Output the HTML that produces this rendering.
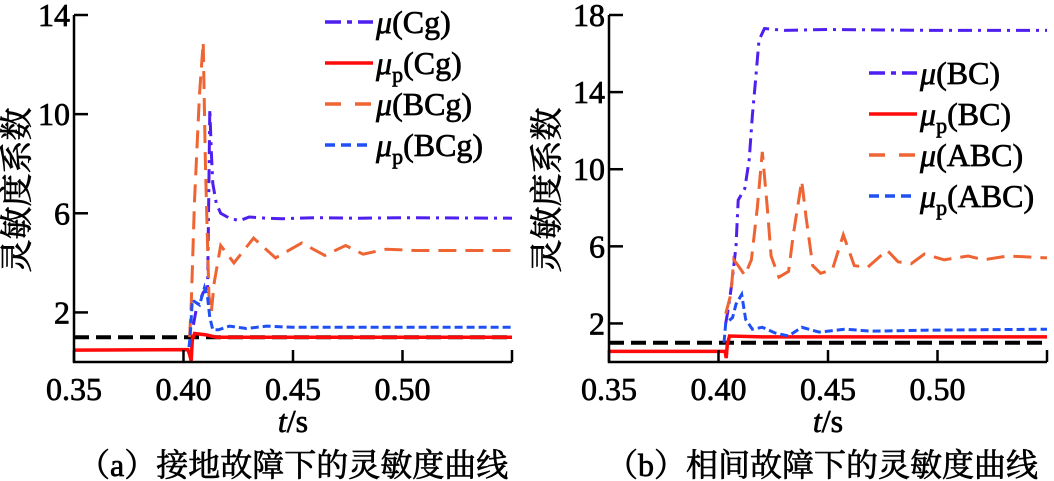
<!DOCTYPE html>
<html><head><meta charset="utf-8"><style>
html,body{margin:0;padding:0;background:#fff;width:1054px;height:481px;overflow:hidden}
svg text{font-family:"Liberation Serif","Noto Serif CJK SC",serif;fill:#000;stroke:#000;stroke-width:0.7}
</style></head><body>
<svg id="chart" width="1054" height="481" viewBox="0 0 1054 481" xmlns="http://www.w3.org/2000/svg"></svg>
<script>
// Panel (a) data
const tA_Cg=[0.4045,0.406,0.409,0.411,0.4115,0.412,0.4127,0.4134,0.415,0.417,0.421,0.4256,0.43,0.4378,0.445,0.46,0.48,0.50,0.55];
const vA_Cg=[1.5,2.2,2.8,3.0,6.5,10.2,8.5,7.2,6.4,6.0,5.8,5.7,5.85,5.8,5.78,5.82,5.8,5.82,5.8];
const tA_pCg=[0.35,0.402,0.4028,0.4035,0.404,0.405,0.41,0.415,0.55];
const vA_pCg=[0.48,0.5,0.3,0.05,0.9,1.15,1.1,1.0,1.0];
const tA_BCg=[0.4028,0.4035,0.405,0.4073,0.409,0.410,0.4116,0.4127,0.414,0.417,0.423,0.432,0.442,0.454,0.4645,0.474,0.482,0.4925,0.506,0.55];
const vA_BCg=[1.0,2.3,6.5,10.8,12.9,8.0,2.7,2.0,3.2,4.7,4.0,5.0,4.2,4.8,4.3,4.7,4.35,4.55,4.5,4.5];
const tA_pBCg=[0.4025,0.403,0.404,0.4073,0.4096,0.411,0.412,0.4134,0.416,0.421,0.4287,0.438,0.45,0.55];
const vA_pBCg=[0.6,1.0,2.5,2.3,3.0,2.6,1.8,1.3,1.3,1.45,1.35,1.45,1.4,1.4];
// Panel (b) data
const tB_BC=[0.4033,0.4045,0.406,0.408,0.409,0.412,0.414,0.4155,0.417,0.4185,0.421,0.43,0.45,0.50,0.55];
const vB_BC=[2.0,2.8,4.0,6.0,8.4,9.0,10.5,12.8,14.7,16.7,17.3,17.2,17.25,17.2,17.2];
const tB_pBC=[0.35,0.403,0.4035,0.404,0.405,0.42,0.55];
const vB_pBC=[0.55,0.56,0.2,0.9,1.35,1.3,1.3];
const tB_ABC=[0.4033,0.4056,0.407,0.409,0.412,0.415,0.4177,0.42,0.4223,0.424,0.4276,0.432,0.434,0.438,0.44,0.443,0.4466,0.452,0.457,0.462,0.468,0.477,0.482,0.488,0.494,0.503,0.514,0.521,0.532,0.55];
const vB_ABC=[2.5,3.5,5.3,5.0,4.5,5.3,8.0,10.9,8.0,5.5,4.4,4.7,6.5,9.4,7.5,5.0,4.6,4.8,6.6,5.0,4.9,5.8,5.2,5.1,5.6,5.3,5.5,5.3,5.5,5.4];
const tB_pABC=[0.4025,0.4033,0.4064,0.408,0.4106,0.4124,0.4155,0.42,0.426,0.432,0.438,0.446,0.458,0.47,0.494,0.55];
const vB_pABC=[1.0,2.0,2.3,3.0,3.5,2.2,1.7,1.8,1.5,1.35,1.8,1.55,1.7,1.6,1.65,1.7];
const xTicks=[0.35,0.40,0.45,0.50];
const xTickLabels=["0.35","0.40","0.45","0.50"];
const yTicksA=[2,6,10,14];
const yTicksB=[2,6,10,14,18];

const NS="http://www.w3.org/2000/svg";
const svg=document.getElementById('chart');
function el(tag,attrs,parent){const e=document.createElementNS(NS,tag);for(const k in attrs)e.setAttribute(k,attrs[k]);(parent||svg).appendChild(e);return e;}

function panel(cfg){
  const g=el('g',{});
  
  
  const X=t=>cfg.x0+(t-0.35)/0.2*(cfg.x1-cfg.x0);
  const Y=v=>cfg.y0-(v-cfg.vmin)/(cfg.vmax-cfg.vmin)*(cfg.y0-cfg.y1);
  const th=el('line',{x1:cfg.x0,x2:cfg.x1,y1:Y(1),y2:Y(1),stroke:'#000','stroke-width':4,'stroke-dasharray':'15 7'},g);
  
  
  cfg.series.forEach(s=>{
    const d=s.t.map((t,i)=>(i?'L':'M')+X(t).toFixed(1)+','+Y(s.v[i]).toFixed(1)).join(' ');
    const p=el('path',{d:d,fill:'none',stroke:s.color,'stroke-width':s.w||3,'stroke-dasharray':s.dash||'none'},g);
    
    
  });
  const ax=el('path',{d:`M${cfg.x0},${cfg.y1} L${cfg.x0},${cfg.y0} L${cfg.x1},${cfg.y0}`,fill:'none',stroke:'#000','stroke-width':2.5},g);
  
  
  cfg.yt.forEach(v=>{
    el('line',{x1:cfg.x0,x2:cfg.x0+14,y1:Y(v),y2:Y(v),stroke:'#000','stroke-width':2.5},g);
    const tx=el('text',{x:cfg.x0-4,y:Y(v)+11,'font-size':32,'text-anchor':'end'},g);
    tx.textContent=v;
    
    
  });
  xTicks.concat([0.55]).forEach(t=>{
    el('line',{x1:X(t),x2:X(t),y1:cfg.y0,y2:cfg.y0-12,stroke:'#000','stroke-width':2.5},g);
  });
  xTicks.forEach((t,i)=>{
    const tx=el('text',{x:X(t),y:cfg.y0+38,'font-size':32,'text-anchor':'middle'},g);
    tx.textContent=xTickLabels[i];
    
    
  });
  const xl=el('text',{x:X(0.45),y:cfg.y0+70,'font-size':32,'text-anchor':'middle'},g);
  xl.innerHTML='<tspan font-style="italic">t</tspan>/s';
  
  
  const yl=el('text',{x:0,y:0,'font-size':33,'text-anchor':'middle',transform:`translate(${cfg.ylx},${cfg.yly}) rotate(-90)`},g);
  yl.textContent='灵敏度系数';
  
  
  const cap=el('text',{x:cfg.capx,y:476,'font-size':32},g);
  cap.textContent=cfg.caption;
  
  
  cfg.series.forEach((s,i)=>{
    const ly=cfg.ly+i*cfg.lstep;
    const ll=el('line',{x1:cfg.lx,x2:cfg.lx+48,y1:ly,y2:ly,stroke:s.color,'stroke-width':3.5,'stroke-dasharray':s.ldash||'none'},g);
    
    
    const lt=el('text',{x:cfg.lx+51,y:ly+11,'font-size':32},g);
    lt.innerHTML=s.label;
    
    
  });
}
const mu='<tspan font-style="italic">μ</tspan>';
const mup='<tspan font-style="italic">μ</tspan><tspan font-size="22" dy="8">p</tspan><tspan dy="-8">';
panel({name:'panel-a',x0:74,x1:512,y0:362,y1:15,vmin:0,vmax:14,yt:yTicksA,ylx:28,yly:190,capx:78,caption:'（a）接地故障下的灵敏度曲线',
  lx:325,ly:22,lstep:41,
  series:[
    {name:'series-mu-Cg',t:tA_Cg,v:vA_Cg,color:'#4f1ff0',dash:'14 6 3 6',ldash:'16 6 5 6',label:mu+'(Cg)'},
    {name:'series-mup-Cg',t:tA_pCg,v:vA_pCg,color:'#ff0a0a',w:3.5,label:mup+'(Cg)</tspan>'},
    {name:'series-mu-BCg',t:tA_BCg,v:vA_BCg,color:'#ee6432',dash:'18 9',ldash:'16 14',label:mu+'(BCg)'},
    {name:'series-mup-BCg',t:tA_pBCg,v:vA_pBCg,color:'#1f50f5',dash:'8 4',ldash:'10 6',label:mup+'(BCg)</tspan>'}
  ]});
panel({name:'panel-b',x0:609,x1:1047,y0:362,y1:15,vmin:0,vmax:18,yt:yTicksB,ylx:558,yly:190,capx:606,caption:'（b）相间故障下的灵敏度曲线',
  lx:869,ly:73,lstep:41,
  series:[
    {name:'series-mu-BC',t:tB_BC,v:vB_BC,color:'#4f1ff0',dash:'14 6 3 6',ldash:'16 6 5 6',label:mu+'(BC)'},
    {name:'series-mup-BC',t:tB_pBC,v:vB_pBC,color:'#ff0a0a',w:3.5,label:mup+'(BC)</tspan>'},
    {name:'series-mu-ABC',t:tB_ABC,v:vB_ABC,color:'#ee6432',dash:'18 9',ldash:'16 14',label:mu+'(ABC)'},
    {name:'series-mup-ABC',t:tB_pABC,v:vB_pABC,color:'#1f50f5',dash:'8 4',ldash:'10 6',label:mup+'(ABC)</tspan>'}
  ]});
</script>
</body></html>
